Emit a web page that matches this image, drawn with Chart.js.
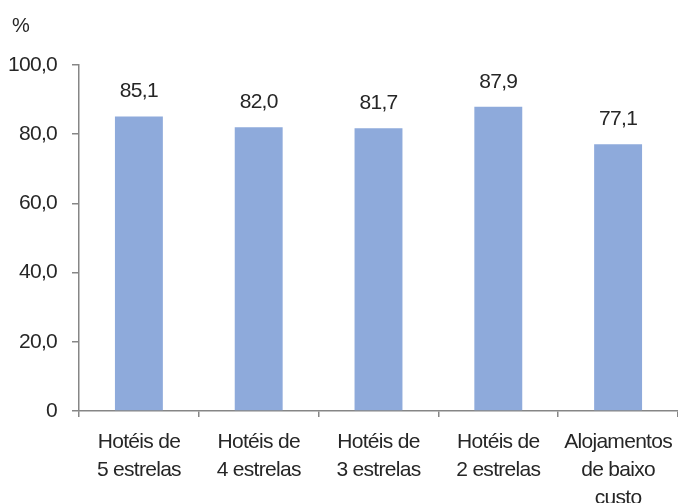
<!DOCTYPE html>
<html>
<head>
<meta charset="utf-8">
<script src="https://cdn.jsdelivr.net/npm/chart.js@4/dist/chart.umd.min.js"></script>
<style>
  html, body { margin: 0; padding: 0; background: #ffffff; }
  #wrap { width: 678px; height: 503px; position: relative; }
</style>
</head>
<body>
<div id="wrap"><canvas id="chart" aria-label="Taxa por tipo de alojamento"></canvas></div>
<script>
// Data
const categories = [
  ['Hotéis de', '5 estrelas'],
  ['Hotéis de', '4 estrelas'],
  ['Hotéis de', '3 estrelas'],
  ['Hotéis de', '2 estrelas'],
  ['Alojamentos', 'de baixo', 'custo']
];
const values = [85.1, 82.0, 81.7, 87.9, 77.1];
const yTicks = [0, 20, 40, 60, 80, 100];
const unitLabel = '%';

const FONT = '"Liberation Sans", Arial, sans-serif';
const SPACING = '-0.7px'; // the original type is a bit condensed
const fmt = v => v === 0 ? '0' : v.toFixed(1).replace('.', ',');

// Tighten letter spacing for every text the chart draws
const spacingPlugin = {
  id: 'spacingPlugin',
  beforeLayout(chart) { chart.ctx.letterSpacing = SPACING; },
  beforeDraw(chart) { chart.ctx.letterSpacing = SPACING; }
};

// Draws value labels above bars and the unit label top-left
const labelPlugin = {
  id: 'labelPlugin',
  afterDatasetsDraw(chart) {
    const ctx = chart.ctx;
    const meta = chart.getDatasetMeta(0);
    ctx.save();
    ctx.letterSpacing = SPACING;
    ctx.fillStyle = '#262626';
    ctx.font = '21px ' + FONT;
    ctx.textAlign = 'center';
    ctx.textBaseline = 'middle';
    meta.data.forEach((bar, i) => {
      ctx.fillText(fmt(values[i]), bar.x, bar.y - 25);
    });
    ctx.font = '20px ' + FONT;
    ctx.textAlign = 'left';
    ctx.fillText(unitLabel, 12, 26);
    ctx.restore();
  }
};

new Chart(document.getElementById('chart').getContext('2d'), {
  type: 'bar',
  data: {
    labels: categories,
    datasets: [{
      data: values,
      backgroundColor: '#8eaadb',
      borderWidth: 0,
      categoryPercentage: 0.4,
      barPercentage: 1.0
    }]
  },
  options: {
    responsive: true,
    maintainAspectRatio: false,
    animation: false,
    layout: { padding: { top: 65, right: 0, bottom: 0, left: 0 } },
    plugins: {
      legend: { display: false },
      tooltip: { enabled: false }
    },
    scales: {
      x: {
        grid: {
          display: true,
          drawOnChartArea: false,
          drawTicks: true,
          tickLength: 6,
          color: '#868686',
          lineWidth: 1.5
        },
        border: { color: '#868686', width: 1.5 },
        ticks: {
          color: '#262626',
          font: { family: FONT, size: 21, lineHeight: 1.333 },
          padding: 11,
          maxRotation: 0,
          autoSkip: false
        },
        afterFit(scale) {
          scale.height = 92;
          scale.paddingLeft = 0;
          scale.paddingRight = 0;
        }
      },
      y: {
        min: 0,
        max: 100,
        afterBuildTicks(scale) { scale.ticks = yTicks.map(v => ({ value: v })); },
        grid: {
          display: true,
          drawOnChartArea: false,
          drawTicks: true,
          tickLength: 7,
          color: '#868686',
          lineWidth: 1.5
        },
        border: { color: '#868686', width: 1.5 },
        ticks: {
          color: '#262626',
          font: { family: FONT, size: 21 },
          padding: 15,
          callback: v => fmt(v)
        },
        afterFit(scale) { scale.width = 79; }
      }
    }
  },
  plugins: [spacingPlugin, labelPlugin]
});
</script>
</body>
</html>
